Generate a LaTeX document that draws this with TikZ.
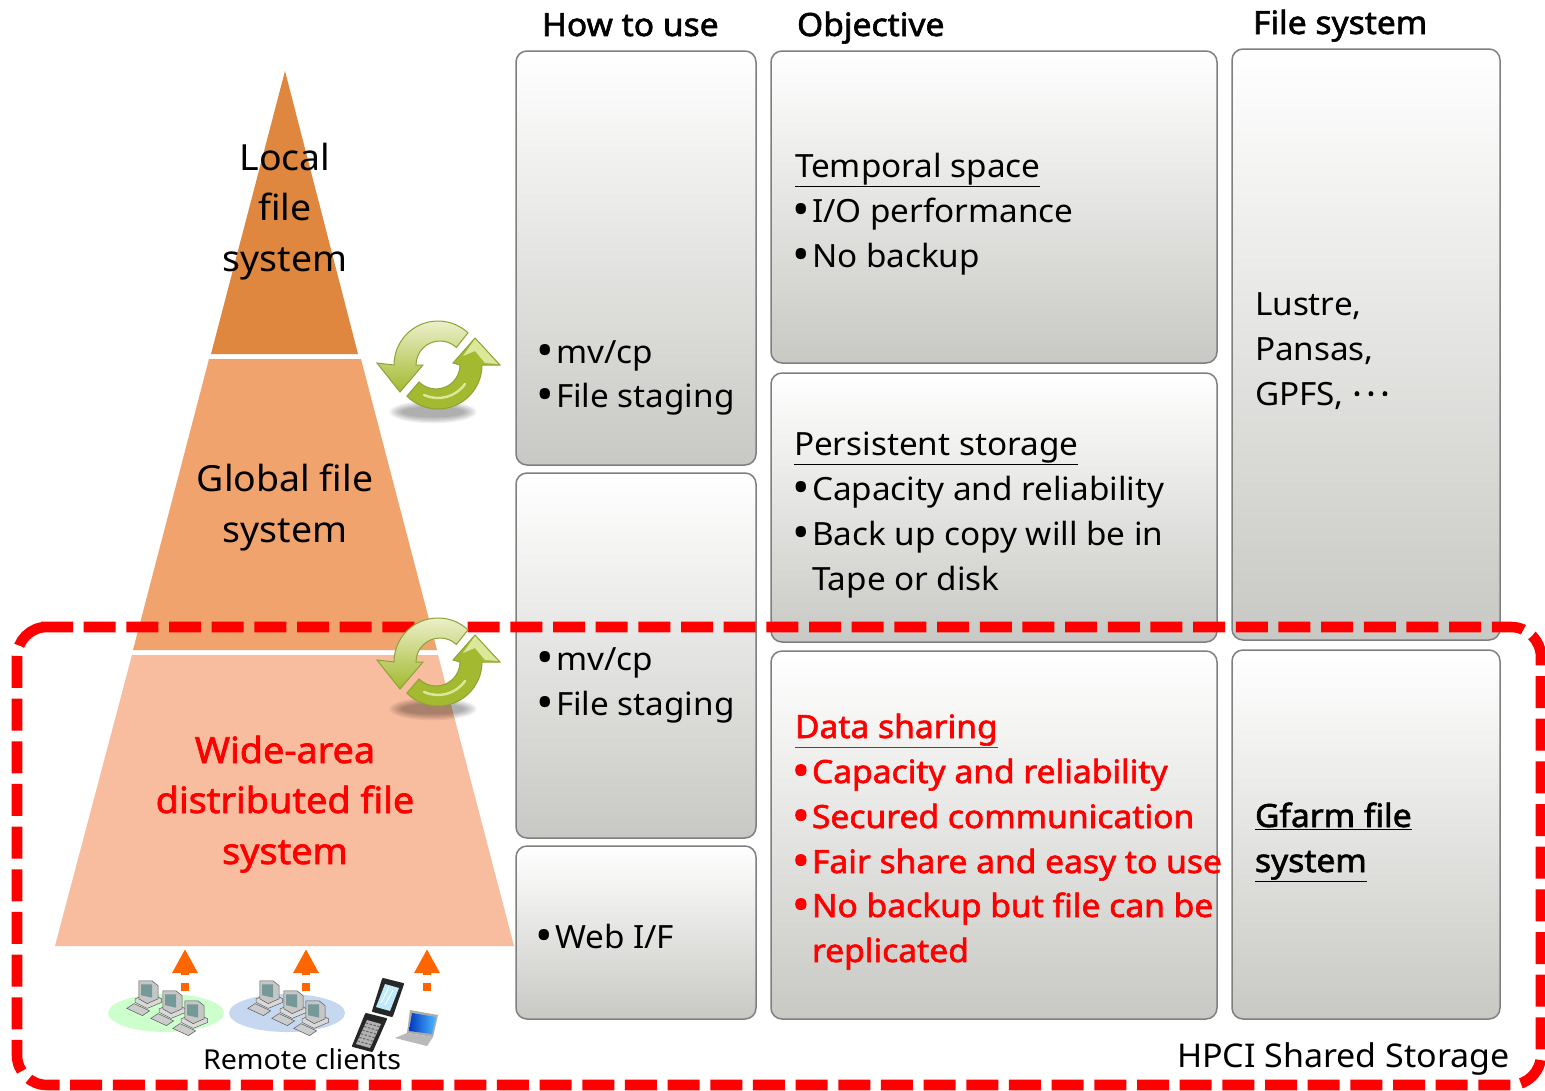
\documentclass[tikz,border=0pt]{standalone}
\usepackage{fontspec}
\setmainfont{Noto Sans}[FakeStretch=1.04]
\newfontfamily\bx{Noto Sans}[FakeStretch=1.05,FakeBold=1.9]
\usetikzlibrary{arrows.meta,calc}
\definecolor{gbar}{HTML}{7F7F7F}
\definecolor{gend}{HTML}{C8C9C4}
\definecolor{pyrA}{HTML}{DF873F}
\definecolor{pyrB}{HTML}{F1A36E}
\definecolor{pyrC}{HTML}{F8BD9E}
\definecolor{rd}{HTML}{FF0000}
\definecolor{org}{HTML}{FF6600}
\definecolor{cyLine}{HTML}{8CA338}
\definecolor{cyLight}{HTML}{F0F3D4}
\definecolor{cyDark}{HTML}{A3B92F}
\definecolor{cyHi}{HTML}{DDE79A}
\newcommand{\fs}[2]{\fontsize{#1}{#2}\selectfont}
\newcommand{\bl}{\makebox[18pt][l]{\hspace*{-2pt}\raisebox{-3.5pt}{\fontsize{45}{45}\selectfont •}}}
\tikzset{
  x=1pt,y=-1pt,
  panel/.style={draw=gbar,line width=1.5pt,rounded corners=11pt,top color=white,bottom color=gend,anchor=north west,inner sep=0pt,outer sep=0pt},
  txt/.style={anchor=base west,inner sep=0pt,outer sep=0pt,align=left,font=\fs{32}{45}},
  head/.style={txt,font=\fs{32}{45}\bx},
  pyr/.style={anchor=base,inner sep=0pt,outer sep=0pt,align=center,font=\fs{36}{50.5}},
  pyrred/.style={pyr,text=rd,font=\fs{36}{50.5}\bx},
  redtxt/.style={txt,text=rd,font=\fs{32}{45}\bx},
  clientarrow/.style={org,line width=8pt,dash pattern=on 8pt off 8pt,-{Triangle[length=24pt,width=24pt,sep=0pt]}},
  pics/cycle/.style={code={
    \foreach \i in {1,...,6}{\fill[black,opacity=.06] (-5,47) ellipse ({46-2.4*\i} and {12.5-1.2*\i});}
    \draw[draw=cyLine,line width=1pt,top color=cyLight,bottom color=cyDark]
      (-47:44) arc[start angle=-47,end angle=-180,radius=44] -- (-61,-2) -- (-38,27) -- (-15,0) -- (-22,0) arc[start angle=-180,end angle=-47,radius=24] -- cycle;
    \draw[draw=cyLine,line width=1pt,fill=cyDark]
      (135:44) arc[start angle=135,end angle=0,radius=44] -- (62,0) -- (37,-27) -- (15,-2) -- (22,0) arc[start angle=0,end angle=135,radius=24] -- cycle;
    \draw[cyHi,line width=2.5pt,line cap=round] (115:33) arc[start angle=115,end angle=35,radius=33];
    \fill[cyHi] (37,-26) -- (60,-1) -- (47,-2) -- (37,-14) -- (25,-9) -- cycle;
  }},
  pics/pc/.style={code={
    \draw[gray!70!black,line width=.5pt,fill=gray!40] (-16,12) -- (-10,8) -- (3,14) -- (-3,18) -- cycle;
    \draw[gray!70!black,line width=.5pt,fill=gray!30] (-9,4) -- (3,-1) -- (13,4) -- (13,7) -- (1,12) -- (-9,7) -- cycle;
    \draw[gray!70!black,line width=.5pt,fill=gray!45] (-6,-11) -- (5,-11) -- (10,-7) -- (10,4) -- (1,8) -- (-6,4) -- cycle;
    \fill[teal!35!gray!80] (-4,-8) -- (5,-8) -- (5,3) -- (-4,1) -- cycle;
  }}
}
\begin{document}
\begin{tikzpicture}
\useasboundingbox (0,0) rectangle (1545,1090);
\fill[white] (0,0) rectangle (1545,1090);
% panels
\node[panel,minimum width=240pt,minimum height=414pt] (howA) at (516,51) {};
\node[panel,minimum width=240pt,minimum height=365pt] (howB) at (516,473) {};
\node[panel,minimum width=240pt,minimum height=173pt] (howC) at (516,846) {};
\node[panel,minimum width=446pt,minimum height=312pt] (objA) at (771,51) {};
\node[panel,minimum width=446pt,minimum height=269pt] (objB) at (771,373) {};
\node[panel,minimum width=446pt,minimum height=368pt] (objC) at (771,651) {};
\node[panel,minimum width=268pt,minimum height=591pt] (fsA) at (1232,49) {};
\node[panel,minimum width=268pt,minimum height=369pt] (fsB) at (1232,650) {};
% pyramid
\fill[pyrA] (285,71) -- (358,354) -- (211,354) -- cycle;
\fill[pyrB] (209,359) -- (361,359) -- (437,650) -- (133,650) -- cycle;
\fill[pyrC] (132,655) -- (438,655) -- (514,946) -- (55,946) -- cycle;
% client ellipses and icons
\definecolor{elG}{HTML}{CCFFCC}
\definecolor{elB}{HTML}{C6D8F0}
\fill[elG] (166,1013) ellipse (58 and 19);
\fill[elB] (287,1013) ellipse (58 and 19);
\foreach \dx in {0,121}{
  \pic[scale=1.2] at ({146+\dx},994) {pc};
  \pic[scale=1.2] at ({170+\dx},1004) {pc};
  \pic[scale=1.2] at ({192+\dx},1014) {pc};
}
% phone
\draw[black!85,fill=black!85,line width=2pt,line join=round] (383,979) -- (403,984) -- (392,1016) -- (373,1011) -- cycle;
\fill[cyan!25!white] (385,984) -- (399,988) -- (390,1011) -- (376,1007) -- cycle;
\draw[white,line width=1pt] (381,1003) -- (389,987) (385,1005) -- (393,990);
\draw[black!85,fill=black!85,line width=2pt,line join=round] (366,1014) -- (386,1019) -- (372,1051) -- (353,1046) -- cycle;
\fill[gray!60] (367,1020) -- (381,1024) -- (370,1048) -- (356,1044) -- cycle;
\foreach \t in {0.12,0.27,...,0.95}{
  \draw[black!60,line width=1pt,dash pattern=on 2.5pt off 1.5pt] ($(367,1020)!\t!(356,1044)$) -- ($(381,1024)!\t!(370,1048)$);
}
% laptop
\fill[gray!65] (410,1010) -- (438,1015) -- (433,1037) -- (407,1033) -- cycle;
\shade[left color=blue!70!cyan!75!black,right color=cyan!60!blue!70] (412,1013) -- (436,1017) -- (432,1034) -- (409,1031) -- cycle;
\fill[gray!55] (407,1033) -- (433,1037) -- (427,1046) -- (395,1038) -- cycle;
% dashed frame
\draw[rd,line width=10.6pt,dash pattern=on 32pt off 10.67pt,rounded corners=30pt]
  (41,627) -- (1541,627) -- (1541,1085) -- (17,1085) -- (17,627) -- (41,627);
% cycles
\pic at (438,365) {cycle};
\pic at (438,662) {cycle};
% client arrows
\coordinate (cA) at (185,991); \coordinate (tA) at (185,949);
\coordinate (cB) at (306,991); \coordinate (tB) at (306,949);
\coordinate (cC) at (427,991); \coordinate (tC) at (427,949);
\draw[clientarrow] (cA) -- (tA);
\draw[clientarrow] (cB) -- (tB);
\draw[clientarrow] (cC) -- (tC);
% headers
\node[head] (h1) at (542,36) {How to use};
\node[head] (h2) at (797,36) {Objective};
\node[head] (h3) at (1253,34) {File system};
% pyramid labels
\node[pyr] (lA) at (285,170) {Local};
\node[pyr] (lA2) at (285,220) {file};
\node[pyr] (lA3) at (285,271) {system};
\node[pyr] (lB) at (285,491) {Global file};
\node[pyr] (lB2) at (285,542) {system};
\node[pyrred] (lC) at (285,763) {Wide-area};
\node[pyrred] (lC2) at (285,813) {distributed file};
\node[pyrred] (lC3) at (285,864) {system};
% how to use
\node[txt] (a1) at (538,363) {\bl mv/cp};
\node[txt] (a2) at (538,407) {\bl File staging};
\node[txt] (b1) at (538,670) {\bl mv/cp};
\node[txt] (b2) at (538,715) {\bl File staging};
\node[txt] (c1) at (537,948) {\bl Web I/F};
% objective
\node[txt] (o1) at (795,177) {\underline{Temporal space}};
\node[txt] (o2) at (794,222) {\bl I/O performance};
\node[txt] (o3) at (794,267) {\bl No backup};
\node[txt] (p1) at (794,455) {\underline{Persistent storage}};
\node[txt] (p2) at (794,500) {\bl Capacity and reliability};
\node[txt] (p3) at (794,545) {\bl Back up copy will be in};
\node[txt] (p4) at (812,590) {Tape or disk};
\node[redtxt] (q1) at (795,738) {\underline{Data sharing}};
\node[redtxt] (q2) at (794,783) {\bl Capacity and reliability};
\node[redtxt] (q3) at (794,828) {\bl Secured communication};
\node[redtxt] (q4) at (794,873) {\bl Fair share and easy to use};
\node[redtxt] (q5) at (794,917) {\bl No backup but file can be};
\node[redtxt] (q6) at (812,962) {replicated};
% file system
\node[txt] (f1) at (1255,315) {Lustre,};
\node[txt] (f2) at (1255,360) {Pansas,};
\node[txt] (f3) at (1255,405) {GPFS, {\bx ·\kern5pt·\kern5pt·}};
\node[head] (g1) at (1255,827) {\underline{Gfarm file}};
\node[head] (g2) at (1255,872) {\underline{system}};
% captions
\node[txt,font=\fs{27.5}{34}] (rc) at (203,1069) {Remote clients};
\node[txt,font=\fs{32.7}{40}] (hp) at (1177,1067) {HPCI Shared Storage};
\end{tikzpicture}
\end{document}
